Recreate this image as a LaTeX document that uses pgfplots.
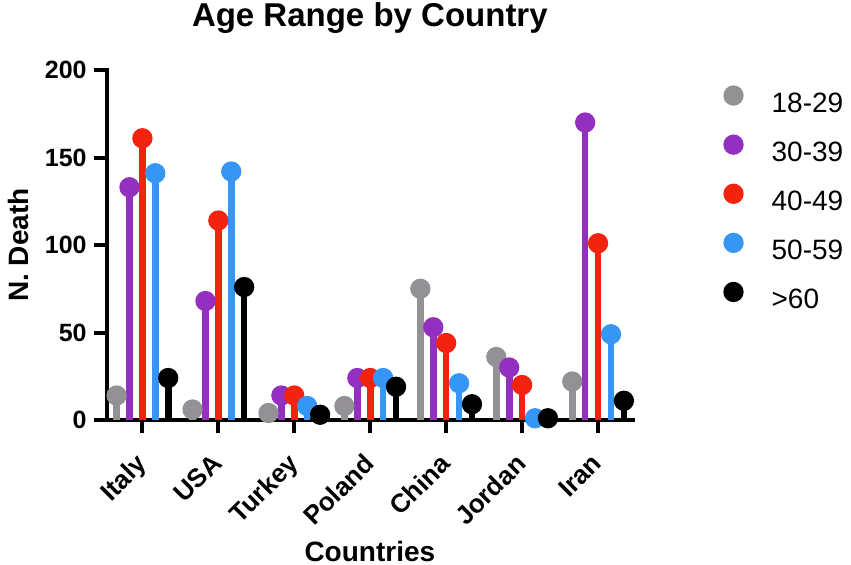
\documentclass[border=0pt]{standalone}
\usepackage{pgfplots}
\usepackage{pgfplotstable}
\pgfplotsset{compat=1.18}
\usepackage{fontspec}
\setmainfont{Liberation Sans}
\definecolor{cgray}{RGB}{147,145,150}
\definecolor{cpurple}{RGB}{147,48,192}
\definecolor{cred}{RGB}{242,36,16}
\definecolor{cblue}{RGB}{55,150,245}
\definecolor{cblack}{RGB}{0,0,0}
\pgfplotstableread{
idx a b c d e
0 14 133 161 141 24
1 6 68 114 142 76
2 4 14 14 8 3
3 8 24 24 24 19
4 75 53 44 21 9
5 36 30 20 1 1
6 22 170 101 49 11
}\data
\pgfplotsset{lolli/.style={ycomb, line width=3.3pt, color=#1, mark=*, mark size=3.4pt,
  mark options={draw=none, fill=#1},
  legend image code/.code={\fill[#1] (0pt,5pt) circle (3.4pt);}}}
\begin{document}
\begin{tikzpicture}
\useasboundingbox (0,0) rectangle (425.5pt,282pt);
\begin{axis}[
  at={(53.35pt,72pt)}, anchor=south west,
  width=263.15pt, height=175pt, scale only axis,
  xmin=-0.47, xmax=6.46, ymin=0, ymax=200,
  axis x line=bottom, axis y line=left,
  axis line style={-, line width=2pt, black, line cap=rect},
  clip=false,
  xtick={0,...,6}, xticklabels={Italy,USA,Turkey,Poland,China,Jordan,Iran},
  ytick={0,50,100,150,200},
  tick align=outside, major tick length=6.5pt,
  tick style={line width=2pt, black},
  minor tick num=0,
  yticklabel style={font=\bfseries\fontsize{12.5}{15}\selectfont},
  /pgf/number format/assume math mode=true,
  xticklabel style={rotate=45, anchor=north east, inner sep=2pt,
    xshift=-7.35pt, yshift=-1.84pt, font=\bfseries\fontsize{13}{15}\selectfont},
  every axis title shift=0pt,
  title={Age Range by Country},
  title style={at={(axis description cs:0.5,1.1237)}, anchor=base, inner sep=0pt,
    yshift=0pt, font=\bfseries\fontsize{16.5}{20}\selectfont},
  xlabel={Countries},
  xlabel style={at={(axis description cs:0.5,-0.4029)}, anchor=base, inner sep=0pt,
    font=\bfseries\fontsize{14}{17}\selectfont},
  ylabel={N. Death},
  ylabel style={at={(axis description cs:-0.1495,0.5)}, anchor=base, inner sep=0pt,
    font=\bfseries\fontsize{14}{17}\selectfont},
  legend cell align=left,
  legend style={at={(axis description cs:1.171,0.957)}, anchor=north west,
    draw=none, fill=none, inner sep=0pt, row sep=8pt, column sep=14pt,
    font=\fontsize{14}{16}\selectfont,
    nodes={inner sep=0pt, text height=10pt, text depth=3pt}},
]
\addplot[lolli=cgray] table[x expr=\thisrow{idx}-0.34, y=a] {\data};
\addlegendentry{18-29}
\addplot[lolli=cpurple] table[x expr=\thisrow{idx}-0.17, y=b] {\data};
\addlegendentry{30-39}
\addplot[lolli=cred] table[x expr=\thisrow{idx}, y=c] {\data};
\addlegendentry{40-49}
\addplot[lolli=cblue] table[x expr=\thisrow{idx}+0.17, y=d] {\data};
\addlegendentry{50-59}
\addplot[lolli=cblack] table[x expr=\thisrow{idx}+0.34, y=e] {\data};
\addlegendentry{>60}
\end{axis}
\end{tikzpicture}
\end{document}
